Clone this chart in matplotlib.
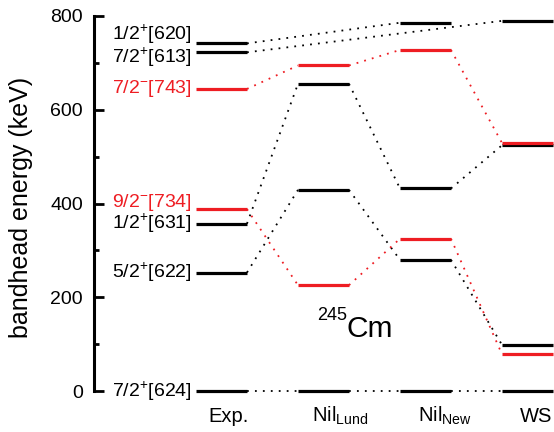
"""Bandhead energies of 245Cm: experiment vs. Nilsson (Lund / new) and Woods-Saxon."""
import matplotlib as mpl
import matplotlib.pyplot as plt

mpl.rcParams.update(
    {
        "font.family": ["Liberation Sans", "DejaVu Sans"],
        "mathtext.fontset": "custom",
        "mathtext.rm": "Liberation Sans",
        "mathtext.it": "Liberation Sans:italic",
        "mathtext.default": "regular",
        "axes.unicode_minus": True,
    }
)

# --- data (keV) ---------------------------------------------------------
models = ["Exp.", "Nil$_{Lund}$", "Nil$_{New}$", "WS"]
orbitals = [
    "7/2$^{+}$[624]",
    "5/2$^{+}$[622]",
    "1/2$^{+}$[631]",
    "9/2$^{-}$[734]",
    "7/2$^{-}$[743]",
    "7/2$^{+}$[613]",
    "1/2$^{+}$[620]",
]
parity = ["+", "+", "+", "-", "-", "+", "+"]
exp_e = [0, 253, 357, 388, 644, 722, 741]
nil_lund_e = [0, 429, 655, 226, 694, None, None]
nil_new_e = [0, 280, 432, 325, 727, None, 785]
ws_e = [0, 99, 524, 79, 529, 789, None]

# vertical nudge of the Exp. labels where levels crowd together (keV)
label_nudge = [0, 0, 0, 14, 0, -11, 19]

RED = "#ee1d23"
BLACK = "#000000"
HALF = 0.25          # half width of a level bar
LEVEL_LW = 2.3
LINK_STYLE = dict(lw=1.3, linestyle=(0, (1, 3.4)))

fig = plt.figure(figsize=(5.54, 4.32), dpi=100, facecolor="white")
ax = fig.add_axes([94 / 554, 40.7 / 432, 460 / 554, 375.6 / 432])

columns = [exp_e, nil_lund_e, nil_new_e, ws_e]

for k, orb in enumerate(orbitals):
    color = RED if parity[k] == "-" else BLACK
    pts = [(i, col[k]) for i, col in enumerate(columns) if col[k] is not None]
    # level bars
    for i, e in pts:
        ax.plot([i - HALF, i + HALF], [e, e], color=color, lw=LEVEL_LW,
                solid_capstyle="butt", clip_on=False, zorder=3 if color == RED else 2)
    # dotted links between consecutive calculations
    for (i0, e0), (i1, e1) in zip(pts[:-1], pts[1:]):
        ax.plot([i0 + HALF, i1 - HALF], [e0, e1], color=color, clip_on=False,
                zorder=1, **LINK_STYLE)
    # orbital label next to the experimental level
    ax.text(-HALF - 0.04, exp_e[k] + label_nudge[k], orb, color=color,
            fontsize=14, ha="right", va="center")

# model names under each column
name_shift = [0.07, 0.16, 0.19, 0.08]
for i, name in enumerate(models):
    ax.text(i + name_shift[i], -0.082, name, fontsize=14.5, ha="center",
            va="baseline", transform=ax.get_xaxis_transform())

# nucleus tag
ax.text(1.23, 116, "Cm", fontsize=21.5, ha="left", va="baseline")
ax.text(1.23, 152, "245", fontsize=13, ha="right", va="baseline")

ax.set_xlim(-1.25, 3.26)
ax.set_ylim(0, 800)
ax.set_yticks([0, 200, 400, 600, 800])
ax.set_yticks([100, 300, 500, 700], minor=True)
ax.tick_params(axis="y", which="major", direction="in", length=7, width=2,
               labelsize=14, pad=8)
ax.tick_params(axis="y", which="minor", direction="in", length=3.5, width=2)
ax.set_xticks([])
for side in ("top", "right", "bottom"):
    ax.spines[side].set_visible(False)
ax.spines["left"].set_linewidth(2.2)
ax.set_ylabel("bandhead energy (keV)", fontsize=18)
ax.yaxis.set_label_coords(-0.133, 0.49)

fig.savefig("out.png", dpi=100, facecolor="white")
